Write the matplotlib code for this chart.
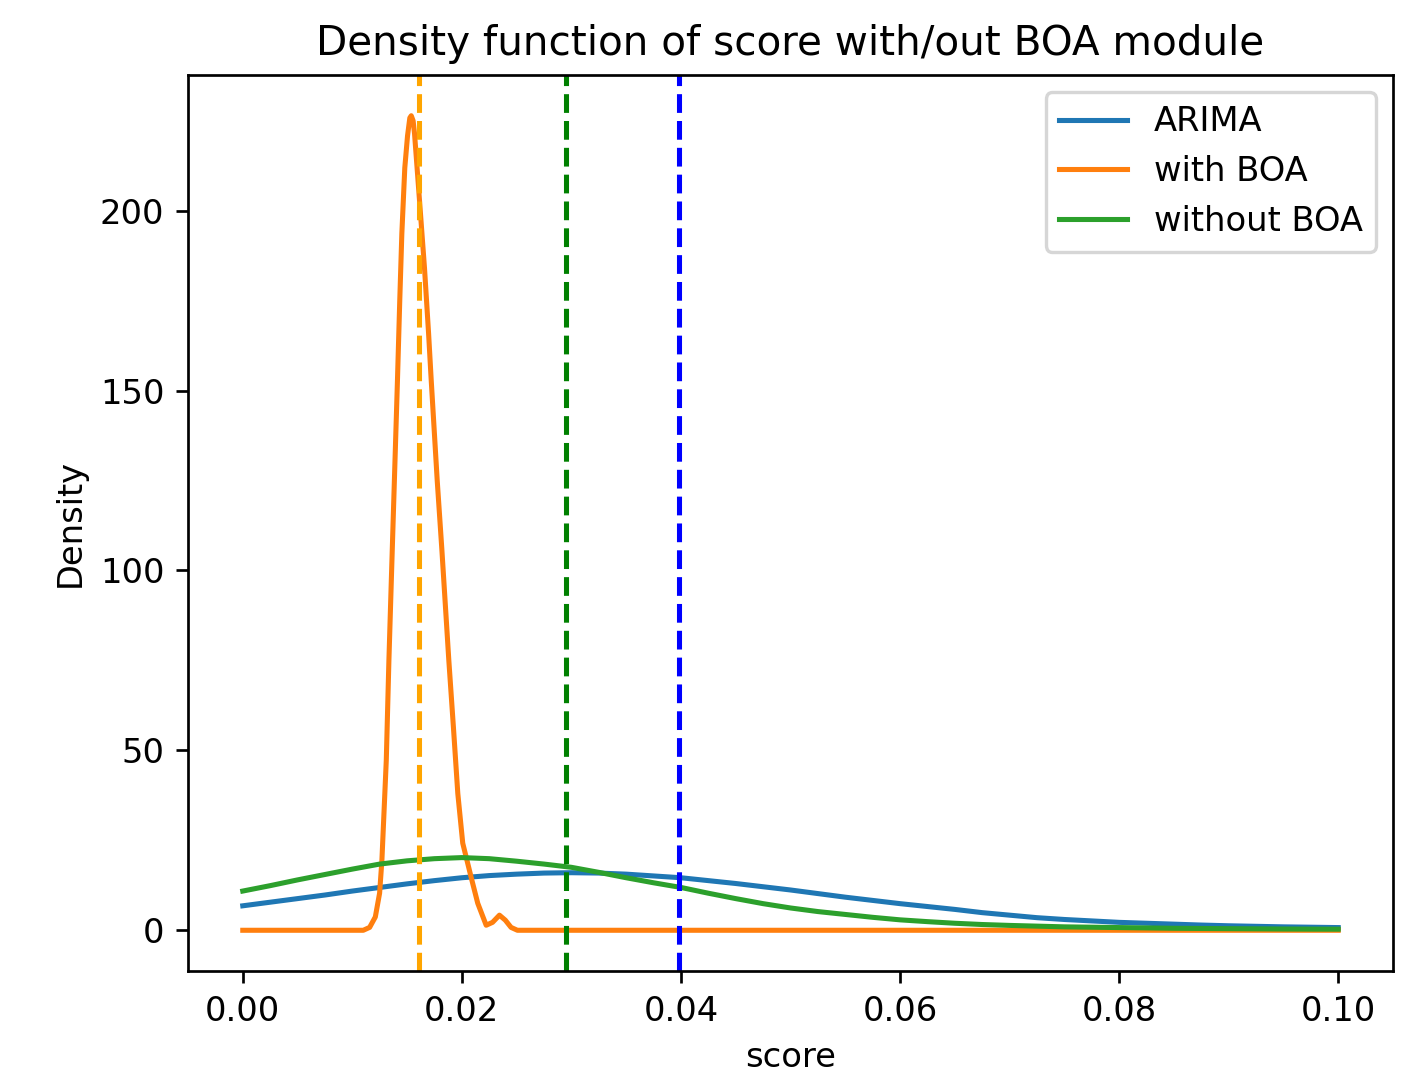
import matplotlib
matplotlib.use("Agg")
import matplotlib.pyplot as plt

# densities
grid_x = [0.0, 0.0025, 0.005, 0.0075, 0.01, 0.0125, 0.015, 0.0175, 0.02,
          0.0225, 0.025, 0.0275, 0.03, 0.0325, 0.035, 0.0375, 0.04, 0.0425,
          0.045, 0.0475, 0.05, 0.0525, 0.055, 0.0575, 0.06, 0.0625, 0.065,
          0.0675, 0.07, 0.0725, 0.075, 0.0775, 0.08, 0.0825, 0.085, 0.0875,
          0.09, 0.0925, 0.095, 0.0975, 0.1]

arima_density = [6.8, 7.8, 8.8, 9.8, 10.9, 11.9, 12.9, 13.8, 14.6,
                 15.2, 15.6, 15.9, 16.0, 15.9, 15.6, 15.1, 14.6, 13.8,
                 13.0, 12.1, 11.2, 10.2, 9.2, 8.3, 7.4, 6.6, 5.8,
                 4.9, 4.2, 3.5, 3.0, 2.6, 2.2, 1.95, 1.7, 1.45,
                 1.25, 1.1, 0.95, 0.85, 0.75]

without_density = [10.9, 12.4, 14.0, 15.5, 17.0, 18.4, 19.3, 19.9, 20.2,
                   19.9, 19.2, 18.4, 17.5, 16.1, 14.6, 13.2, 11.9, 10.3,
                   8.8, 7.4, 6.2, 5.2, 4.4, 3.6, 2.9, 2.4, 1.95,
                   1.6, 1.35, 1.15, 0.95, 0.85, 0.75, 0.65, 0.55, 0.5,
                   0.45, 0.4, 0.35, 0.32, 0.3]

with_x = [0.0, 0.0110, 0.01158, 0.0121, 0.01249, 0.0127, 0.0131, 0.01334,
          0.01356, 0.01384, 0.01412, 0.01433, 0.01452, 0.01479, 0.01504,
          0.01525, 0.01538, 0.01555, 0.01568, 0.01613, 0.01659, 0.01696,
          0.0172, 0.01775, 0.01817, 0.01881, 0.01923, 0.01963, 0.02008,
          0.02085, 0.02145, 0.02222, 0.0228, 0.02343, 0.02397, 0.02449,
          0.02507, 0.1]
with_density = [0.0, 0.0, 0.8, 3.7, 10.3, 19.4, 47.2, 75.0,
                97.2, 125.0, 152.8, 175.0, 193.6, 211.9, 220.8,
                225.8, 226.4, 225.0, 221.4, 203.0, 184.0, 166.0,
                153.0, 125.0, 106.0, 75.0, 56.4, 38.0, 24.2,
                14.7, 7.5, 1.4, 2.2, 4.2, 2.8, 0.8,
                0.0, 0.0]

mean_lines = [0.01611, 0.02947, 0.03981]
mean_colors = ['orange', 'green', 'blue']

W, H, DPI = 1425, 1073, 243
fig = plt.figure(figsize=(W / DPI, H / DPI), dpi=DPI)
ax = fig.add_axes([188 / W, 1 - 971 / H, 1205 / W, 896 / H])

ax.plot(grid_x, arima_density, label='ARIMA')
ax.plot(with_x, with_density, label='with BOA')
ax.plot(grid_x, without_density, label='without BOA')

for xv, c in zip(mean_lines, mean_colors):
    ax.axvline(xv, color=c, linestyle='--')

ax.set_title('Density function of score with/out BOA module')
ax.set_xlabel('score')
ax.set_ylabel('Density')
ax.legend(loc='upper right')

fig.savefig('out.png', dpi=DPI)
